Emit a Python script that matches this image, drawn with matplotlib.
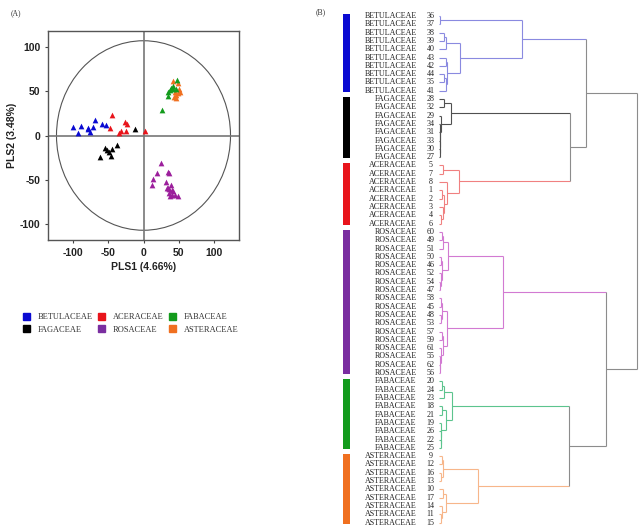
import matplotlib
matplotlib.use('Agg')
import matplotlib.pyplot as plt
from matplotlib.patches import Ellipse, Patch

# ---- panel A: PLS scores ----
betulaceae_x = [-100, -93, -89, -79, -75, -72, -69, -58, -53, -78]
betulaceae_y = [10, 3, 11, 9, 4.5, 10, 18, 13, 12, 7]
aceraceae_x = [-44, -47.5, -34, -32, -26, -23.5, -25, 2]
aceraceae_y = [23, 8, 2.6, 5, 15, 13, 5, 5]
fagaceae_x = [-12, -37, -54, -51, -49, -45, -46, -62]
fagaceae_y = [7.5, -10.5, -14, -16, -19, -15, -23, -24]
rosaceae_x = [25, 19, 14, 12.7, 35, 36, 31.5, 34, 39, 36.7, 40.5, 36, 40, 42, 44.7, 48.5, 37.6, 33]
rosaceae_y = [-31.5, -42.7, -48.7, -55.8, -41, -42.7, -52.8, -59, -56, -60.7, -61.4, -64.8,
              -67.4, -63, -67, -67.8, -67.8, -59.5]
asteraceae_x = [41.4, 44, 43, 45.6, 48.5, 50, 49, 46, 52]
asteraceae_y = [62, 48.7, 44, 42.7, 47.6, 53, 59, 46, 49.4]
fabaceae_x = [26, 34, 35, 38.6, 41, 42, 45.6, 48, 37.6]
fabaceae_y = [29, 44.5, 49, 54, 56, 53, 52, 62.5, 51]

families = ['BETULACEAE', 'FAGACEAE', 'ACERACEAE', 'ROSACEAE', 'FABACEAE', 'ASTERACEAE']
fam_colors = {'BETULACEAE': '#0a0ad2', 'FAGACEAE': '#000000', 'ACERACEAE': '#e8141b',
              'ROSACEAE': '#7a2ea0', 'FABACEAE': '#139b1c', 'ASTERACEAE': '#f07020'}
dot_colors = {'BETULACEAE': '#0a0ad2', 'FAGACEAE': '#000000', 'ACERACEAE': '#e8141b',
              'ROSACEAE': '#9c1f9c', 'FABACEAE': '#139b1c', 'ASTERACEAE': '#f07020'}
link_colors = {'BETULACEAE': '#8a8ae0', 'FAGACEAE': '#505050', 'ACERACEAE': '#f08080',
               'ROSACEAE': '#d27ad2', 'FABACEAE': '#5cc48e', 'ASTERACEAE': '#f7b68a'}
upper_link_color = '#8c8c8c'

# ---- panel B: dendrogram (sample number -> family, merge heights, root = 100) ----
sample_family = {}
for n in range(1, 9):
    sample_family[n] = 'ACERACEAE'
for n in range(9, 18):
    sample_family[n] = 'ASTERACEAE'
for n in range(18, 27):
    sample_family[n] = 'FABACEAE'
for n in range(27, 35):
    sample_family[n] = 'FAGACEAE'
for n in range(35, 45):
    sample_family[n] = 'BETULACEAE'
for n in range(45, 63):
    sample_family[n] = 'ROSACEAE'

# node = [height, left, right]; leaves are sample numbers
bet_tree = [42.0, [0.5, 36, 37],
            [10.6, [3.3, [2.5, 38, 39], 40], [4.2, [3.4, 43, 42], [3.5, [2.7, 44, 35], 41]]]]
fag_tree = [6.0, [2.5, 28, 32], [0.8, 29, [0.7, 34, [0.6, 31, [0.5, 33, [0.4, 30, 27]]]]]]
ace_tree = [10.0, [2.2, 5, 7], [3.9, 8, [2.3, [1.5, 1, 2], [1.8, 3, [1.2, 4, 6]]]]]
ros_tree = [32.5,
            [4.3, [2.2, [1.6, 60, 49], 51], [1.4, [1.0, 50, 46], [0.8, 52, [0.6, 54, 47]]]],
            [3.9, [1.5, [1.0, 58, 45], [0.8, 48, 53]],
             [2.0, [1.6, 57, 59], [0.8, 61, [0.6, 55, [0.5, 62, 56]]]]]]
fab_tree = [6.4, [2.7, [1.4, 20, 24], 23], [3.5, [1.5, 18, 21], [1.2, 19, [1.0, 26, [0.8, 22, 25]]]]]
ast_tree = [19.5, [2.2, [1.5, 9, 12], [1.2, 16, 13]], [3.5, [1.8, 10, 17], [1.5, 14, [1.0, 11, 15]]]]
root = [100.0, [74.6, bet_tree, [66.5, fag_tree, ace_tree]],
        [84.3, ros_tree, [65.9, fab_tree, ast_tree]]]

plt.rcParams['font.family'] = 'Liberation Serif'
plt.rcParams['axes.unicode_minus'] = False
fig = plt.figure(figsize=(6.43, 5.31), dpi=100)

# ----- scatter -----
ax = fig.add_axes([48 / 643, 1 - 240 / 531, 191 / 643, 209 / 531])
ax.add_patch(Ellipse((0, 0), 246, 214, fill=False, ec='#555555', lw=0.8, zorder=1))
ax.axhline(0, color='#777777', lw=1.2, zorder=1)
ax.axvline(0, color='#777777', lw=1.2, zorder=1)
series = [('BETULACEAE', betulaceae_x, betulaceae_y), ('ACERACEAE', aceraceae_x, aceraceae_y),
          ('FAGACEAE', fagaceae_x, fagaceae_y), ('ROSACEAE', rosaceae_x, rosaceae_y),
          ('ASTERACEAE', asteraceae_x, asteraceae_y), ('FABACEAE', fabaceae_x, fabaceae_y)]
for fam, xs, ys in series:
    ax.scatter(xs, ys, marker='^', s=17, color=dot_colors[fam], linewidths=0, zorder=3)
ax.set_xlim(-135, 135)
ax.set_ylim(-118, 118)
ax.set_xticks([-100, -50, 0, 50, 100])
ax.set_yticks([-100, -50, 0, 50, 100])
ax.tick_params(direction='out', length=2.5, width=0.8, color='#444444', pad=3)
for lab in ax.get_xticklabels() + ax.get_yticklabels():
    lab.set_fontfamily('Liberation Sans')
    lab.set_fontweight('bold')
    lab.set_fontsize(7.5)
    lab.set_color('#222222')
for sp in ax.spines.values():
    sp.set_color('#555555')
    sp.set_linewidth(1.0)
ax.set_xlabel('PLS1 (4.66%)', fontfamily='Liberation Sans', fontweight='bold', fontsize=7.5,
              color='#222222', labelpad=3)
ax.set_ylabel('PLS2 (3.48%)', fontfamily='Liberation Sans', fontweight='bold', fontsize=7.5,
              color='#222222', labelpad=2)

fig.text(11 / 643, 1 - 13 / 531, '(A)', fontsize=5.5, va='center', color='#333333')
fig.text(316 / 643, 1 - 12 / 531, '(B)', fontsize=5.5, va='center', color='#333333')

# legend
legend_order = ['BETULACEAE', 'FAGACEAE', 'ACERACEAE', 'ROSACEAE', 'FABACEAE', 'ASTERACEAE']
handles = [Patch(color=fam_colors[f], label=f) for f in legend_order]
fig.legend(handles=handles, loc='upper left', bbox_to_anchor=(17 / 643, 1 - 307 / 531), ncol=3,
           frameon=False, fontsize=6, handlelength=0.9, handleheight=0.9, handletextpad=0.9,
           columnspacing=0.6, labelspacing=0.5, borderpad=0.2, labelcolor='#333333')

# ----- dendrogram -----
axd = fig.add_axes([340 / 643, 1 - 528 / 531, 301 / 643, 518 / 531])
axd.set_xlim(-50.1, 102.2)
axd.set_ylim(61.65, -0.72)
axd.axis('off')

leaf_order = []


def collect(node):
    if isinstance(node, int):
        leaf_order.append(node)
        return
    collect(node[1])
    collect(node[2])


collect(root)
row_of = {s: i for i, s in enumerate(leaf_order)}


def draw(node):
    # returns y, height, set of families
    if isinstance(node, int):
        return row_of[node], 0.0, {sample_family[node]}
    h = node[0]
    ya, ha, fa = draw(node[1])
    yb, hb, fb = draw(node[2])
    for y0, h0, f0 in [(ya, ha, fa), (yb, hb, fb)]:
        c = link_colors[next(iter(f0))] if len(f0) == 1 else upper_link_color
        axd.plot([h0, h], [y0, y0], color=c, lw=0.8, solid_capstyle='butt', clip_on=False)
    fams = fa | fb
    c = link_colors[next(iter(fams))] if len(fams) == 1 else upper_link_color
    axd.plot([h, h], [ya, yb], color=c, lw=0.8, solid_capstyle='butt', clip_on=False)
    return (ya + yb) / 2, h, fams


draw(root)

for s in leaf_order:
    r = row_of[s]
    axd.text(-11.3, r, sample_family[s], ha='right', va='center', fontsize=5.8, color='#222222')
    axd.text(-4.3, r, str(s), ha='center', va='center', fontsize=5.8, color='#222222')

for fam in families:
    rows = [row_of[s] for s in leaf_order if sample_family[s] == fam]
    axd.bar(-46.9, max(rows) - min(rows) + 0.4, bottom=min(rows) - 0.25, width=3.8,
            color=fam_colors[fam], linewidth=0)

fig.savefig('out.png', dpi=100)
